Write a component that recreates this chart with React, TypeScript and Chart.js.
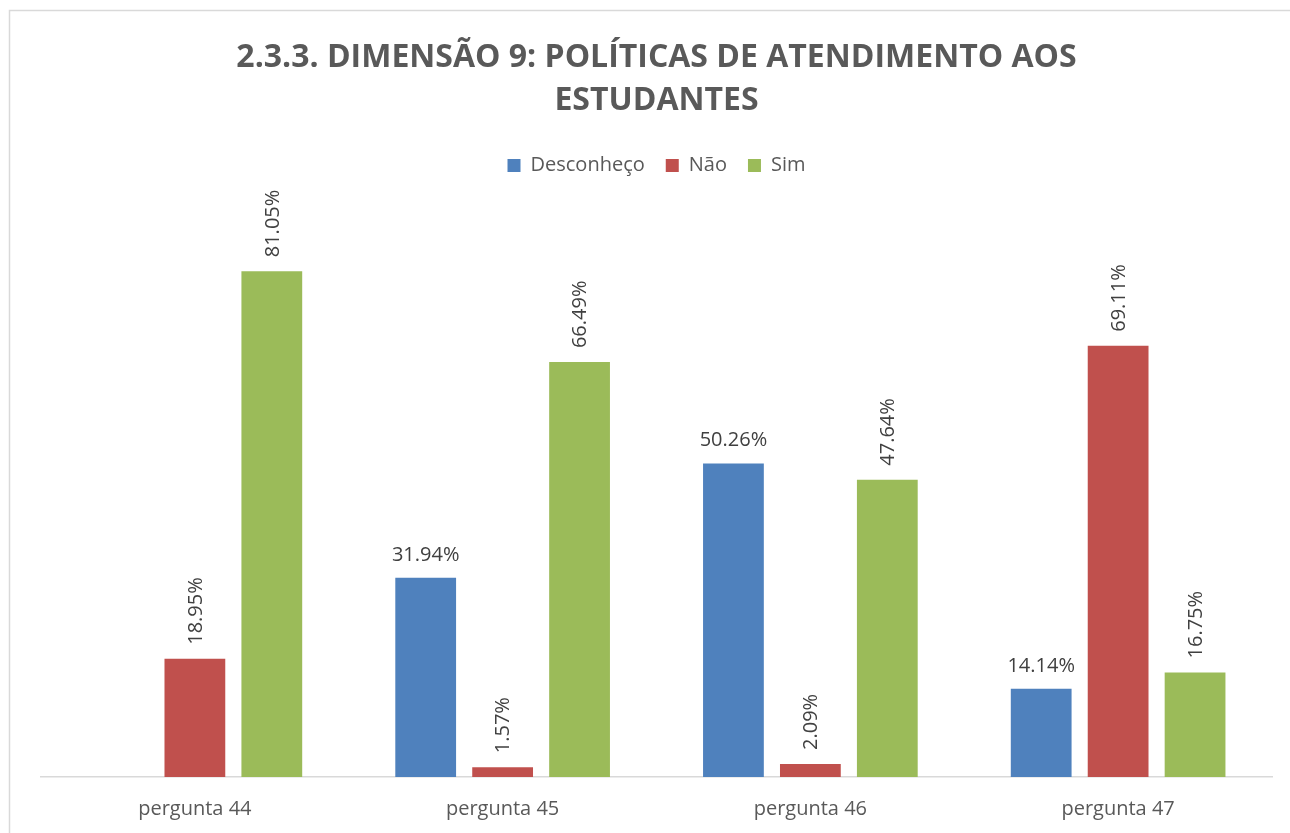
import React, { useEffect, useRef } from "react";
import { Chart, registerables } from "chart.js";

Chart.register(...registerables);

const categories = ["pergunta 44", "pergunta 45", "pergunta 46", "pergunta 47"];
const desconheco: (number | null)[] = [null, 31.94, 50.26, 14.14];
const nao: number[] = [18.95, 1.57, 2.09, 69.11];
const sim: number[] = [81.05, 66.49, 47.64, 16.75];
const titleLines = ["2.3.3. DIMENSÃO 9: POLÍTICAS DE ATENDIMENTO AOS", "ESTUDANTES"];
const FONT = "'Open Sans', 'DejaVu Sans', sans-serif";

const frame = {
  id: "frame",
  beforeDraw(chart: any) {
    const ctx = chart.ctx;
    ctx.save();
    ctx.fillStyle = "#ffffff";
    ctx.fillRect(0, 0, chart.width, chart.height);
    ctx.strokeStyle = "#d9d9d9";
    ctx.lineWidth = 1.5;
    ctx.strokeRect(9.5, 10.5, chart.width + 20, chart.height + 20);
    ctx.restore();
  },
};

const legendGap = {
  id: "legendGap",
  beforeInit(chart: any) {
    const orig = chart.legend.fit;
    chart.legend.fit = function () {
      orig.call(this);
      this.height += 30;
    };
  },
};

const labels = {
  id: "barLabels",
  afterDatasetsDraw(chart: any) {
    const ctx = chart.ctx;
    ctx.save();
    ctx.fillStyle = "#404040";
    ctx.font = `20px ${FONT}`;
    chart.data.datasets.forEach((ds: any, di: number) => {
      const meta = chart.getDatasetMeta(di);
      meta.data.forEach((el: any, i: number) => {
        const v = ds.data[i];
        if (v === null || v === undefined) return;
        const txt = v.toFixed(2) + "%";
        if (di === 0) {
          ctx.textAlign = "center";
          ctx.textBaseline = "alphabetic";
          ctx.fillText(txt, el.x, el.y - 17);
        } else {
          ctx.save();
          ctx.translate(el.x, el.y - 14);
          ctx.rotate(-Math.PI / 2);
          ctx.textAlign = "left";
          ctx.textBaseline = "middle";
          ctx.fillText(txt, 0, 1);
          ctx.restore();
        }
      });
    });
    ctx.restore();
  },
};

export default function App() {
  const ref = useRef<HTMLCanvasElement | null>(null);
  useEffect(() => {
    if (!ref.current) return;
    const chart = new Chart(ref.current, {
      type: "bar",
      data: {
        labels: categories,
        datasets: [
          { label: "Desconheço", data: desconheco, backgroundColor: "#4F81BD" },
          { label: "Não", data: nao, backgroundColor: "#C0504D" },
          { label: "Sim", data: sim, backgroundColor: "#9BBB59" },
        ],
      },
      options: {
        animation: false,
        responsive: true,
        maintainAspectRatio: false,
        datasets: { bar: { categoryPercentage: 0.75, barPercentage: 0.79 } },
        layout: { padding: { left: 41, right: 18, top: 0, bottom: 10 } },
        plugins: {
          title: {
            display: true,
            text: titleLines,
            color: "#595959",
            font: { family: FONT, size: 32, weight: "bold", lineHeight: 1.35 },
            padding: { top: 36, bottom: 12 },
          },
          legend: {
            display: true,
            position: "top",
            labels: {
              color: "#595959",
              font: { family: FONT, size: 20 },
              boxWidth: 13,
              boxHeight: 13,
              padding: 21,
            },
          },
          tooltip: { enabled: false },
        },
        scales: {
          x: {
            grid: { display: false, drawTicks: false },
            border: { display: true, color: "#d9d9d9", width: 1.5 },
            ticks: { color: "#595959", font: { family: FONT, size: 20 }, padding: 20 },
          },
          y: { display: false, min: 0, max: 90 },
        },
      },
      plugins: [frame, legendGap, labels],
    });
    return () => chart.destroy();
  }, []);
  return (
    <div style={{ position: "fixed", left: 0, top: 0, width: 1290, height: 851, overflow: "hidden" }}>
      <canvas ref={ref} />
    </div>
  );
}
